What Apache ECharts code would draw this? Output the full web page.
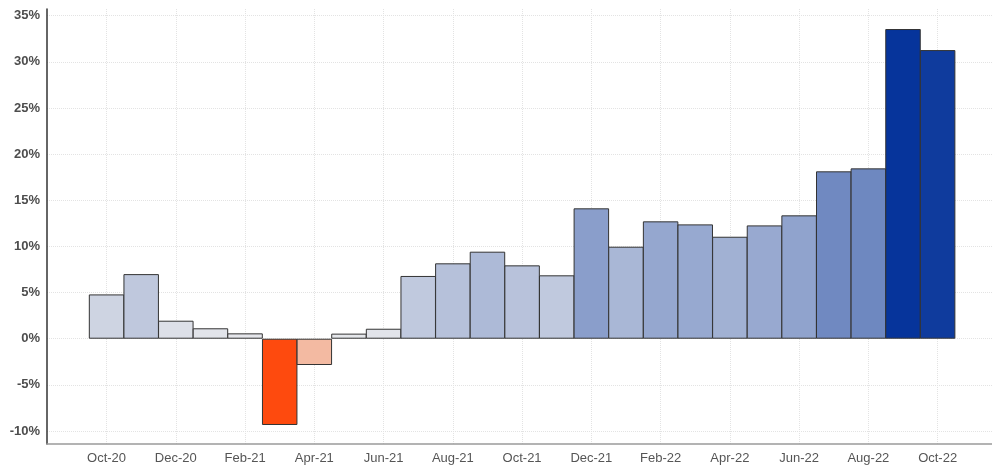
<!DOCTYPE html>
<html>
<head>
<meta charset="utf-8">
<script src="https://cdn.jsdelivr.net/npm/echarts@6/dist/echarts.min.js"></script>
<style>html,body{margin:0;padding:0;background:#fff;}#c{width:992px;height:465px;}</style>
</head>
<body>
<div id="c"></div>
<script>
const months = ['Oct-20','Nov-20','Dec-20','Jan-21','Feb-21','Mar-21','Apr-21','May-21','Jun-21','Jul-21','Aug-21','Sep-21','Oct-21','Nov-21','Dec-21','Jan-22','Feb-22','Mar-22','Apr-22','May-22','Jun-22','Jul-22','Aug-22','Sep-22','Oct-22'];
const values = [4.8,7.0,1.95,1.13,0.58,-9.35,-2.85,0.55,1.08,6.8,8.17,9.43,7.95,6.87,14.13,9.97,12.72,12.39,11.05,12.28,13.37,18.14,18.46,33.56,31.28];
const xTickIdx = [0,2,4,6,8,10,12,14,16,18,20,22,24];
const yTicks = [-10,-5,0,5,10,15,20,25,30,35];

const chart = echarts.init(document.getElementById('c'), null, {renderer:'canvas'});
const font = "'Liberation Sans', Arial, sans-serif";
chart.setOption({
  animation: false,
  backgroundColor: '#fff',
  grid: {left: 47, right: 0, top: 9, bottom: 21, containLabel: false},
  xAxis: {
    type: 'value', min: -1.72, max: 25.57,
    axisLine: {show: true, onZero: false, lineStyle: {color: '#9a9a9a', width: 1.5}},
    axisTick: {show: false, customValues: xTickIdx},
    axisLabel: {customValues: xTickIdx, formatter: v => months[Math.round(v)] || '', color: '#555', fontSize: 13, fontFamily: font, margin: 8},
    splitLine: {show: true, lineStyle: {color: '#e3e3e3', type: 'dotted', width: 1}}
  },
  yAxis: {
    type: 'value', min: -11.41, max: 35.73,
    axisLine: {show: true, onZero: false, lineStyle: {color: '#333', width: 1.5}},
    axisTick: {show: false, customValues: yTicks},
    axisLabel: {customValues: yTicks, formatter: v => v + '%', color: '#4d4d4d', fontSize: 13, fontWeight: 'bold', fontFamily: font, margin: 7},
    splitLine: {show: true, lineStyle: {color: '#e3e3e3', type: 'dotted', width: 1}}
  },
  visualMap: {
    show: false, type: 'continuous', dimension: 1, min: -10, max: 35,
    inRange: {color: ['#ff3e00','#fb976a','#e8e9ec','#cdd3e2','#a9b7d6','#8499c9','#6480bc','#4462ae','#143f9e','#00309a']}
  },
  series: [{
    type: 'bar',
    barWidth: '102.5%',
    data: values.map((v, i) => [i, v]),
    itemStyle: {borderColor: '#333', borderWidth: 1}
  }]
});
</script>
</body>
</html>
